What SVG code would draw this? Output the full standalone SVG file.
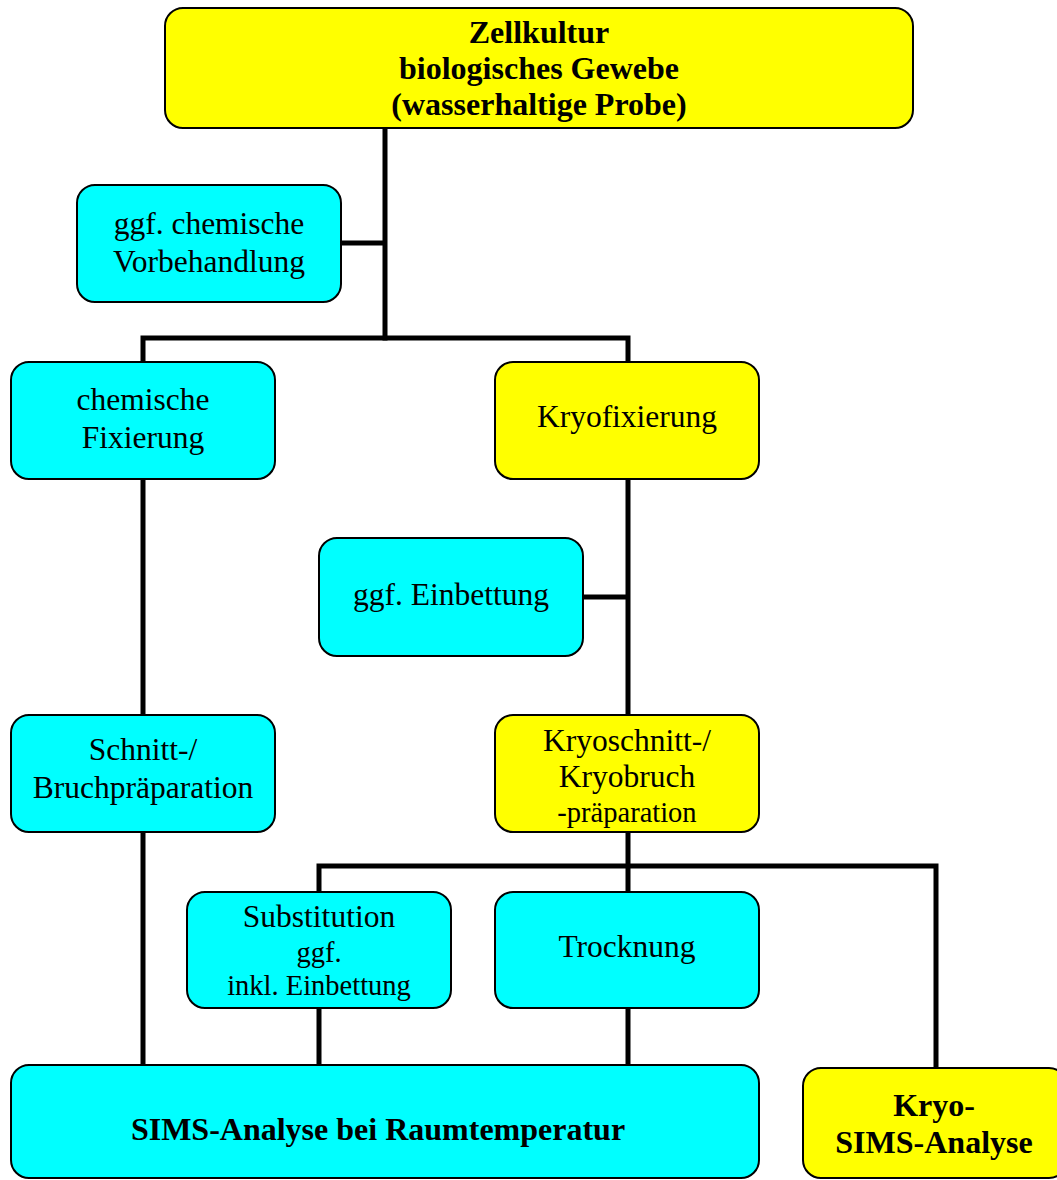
<svg xmlns="http://www.w3.org/2000/svg" width="1057" height="1180" viewBox="0 0 1057 1180">
<style>
.box{stroke:#000;stroke-width:2}
.y{fill:#FFFF00}
.c{fill:#00FFFF}
text{font-family:"Liberation Serif","Times New Roman",serif;fill:#000;text-anchor:middle}
.t{font-size:31.5px}
.s{font-size:28.5px}
.b{font-size:32px;font-weight:bold}
.conn{stroke:#000;stroke-width:5;fill:none;stroke-linecap:square}
</style>
<rect width="1057" height="1180" fill="#fff"/>
<g id="connectors" class="conn">
<path d="M385 128V338M341 243H385"/>
<path d="M143 338H628M143 338V362M628 338V362"/>
<path d="M143 479V715M628 479V715M583 597H628"/>
<path d="M143 832V1065"/>
<path d="M628 832V866M319 866H936M319 866V892M628 866V892M936 866V1068"/>
<path d="M319 1008V1065M628 1008V1065"/>
</g>
<g id="zellkultur">
<rect class="box y" x="165" y="8" width="748" height="120" rx="18"/>
<text class="b" x="539" y="43">Zellkultur</text>
<text class="b" x="539" y="79">biologisches Gewebe</text>
<text class="b" x="539" y="115">(wasserhaltige Probe)</text>
</g>
<g id="vorbehandlung">
<rect class="box c" x="77" y="185" width="264" height="117" rx="18"/>
<text class="t" x="209" y="234">ggf. chemische</text>
<text class="t" x="209" y="272">Vorbehandlung</text>
</g>
<g id="chem-fixierung">
<rect class="box c" x="11" y="362" width="264" height="117" rx="18"/>
<text class="t" x="143" y="410">chemische</text>
<text class="t" x="143" y="448">Fixierung</text>
</g>
<g id="kryofixierung">
<rect class="box y" x="495" y="362" width="264" height="117" rx="18"/>
<text class="t" x="627" y="427">Kryofixierung</text>
</g>
<g id="einbettung">
<rect class="box c" x="319" y="538" width="264" height="118" rx="18"/>
<text class="t" x="451" y="605">ggf. Einbettung</text>
</g>
<g id="schnitt">
<rect class="box c" x="11" y="715" width="264" height="117" rx="18"/>
<text class="t" x="143" y="760">Schnitt-/</text>
<text class="t" x="143" y="798">Bruchpräparation</text>
</g>
<g id="kryoschnitt">
<rect class="box y" x="495" y="715" width="264" height="117" rx="18"/>
<text class="t" x="627" y="751">Kryoschnitt-/</text>
<text class="t" x="627" y="787">Kryobruch</text>
<text class="s" x="627" y="822">-präparation</text>
</g>
<g id="substitution">
<rect class="box c" x="187" y="892" width="264" height="116" rx="18"/>
<text class="t" x="319" y="927">Substitution</text>
<text class="s" x="319" y="962">ggf.</text>
<text class="s" x="319" y="995">inkl. Einbettung</text>
</g>
<g id="trocknung">
<rect class="box c" x="495" y="892" width="264" height="116" rx="18"/>
<text class="t" x="627" y="957">Trocknung</text>
</g>
<g id="sims-rt">
<rect class="box c" x="11" y="1065" width="748" height="113" rx="18"/>
<text class="b" x="378" y="1140">SIMS-Analyse bei Raumtemperatur</text>
</g>
<g id="kryo-sims">
<rect class="box y" x="803" y="1068" width="264" height="110" rx="18"/>
<text class="b" x="934" y="1116">Kryo-</text>
<text class="b" x="934" y="1153">SIMS-Analyse</text>
</g>
</svg>
